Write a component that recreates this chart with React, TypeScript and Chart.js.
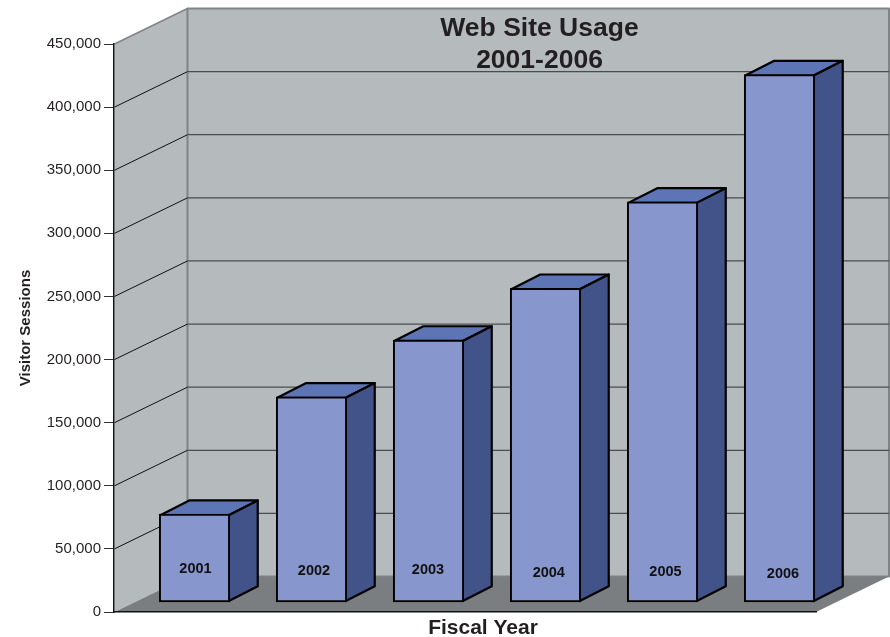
import React, { useEffect, useRef } from "react";
import { Chart, registerables } from "chart.js";

Chart.register(...registerables);

const fiscalYears = ["2001", "2002", "2003", "2004", "2005", "2006"];
const visitorSessions = [70000, 163000, 208000, 249000, 317400, 418300];
// Height, in axis units above each bar's base, of the year written on its front face.
const yearLabelLevels = [26400, 25000, 25700, 23600, 24100, 22300];
// The years sit slightly off-centre on the faces.
const yearLabelNudges = [1, 2.5, -0.5, 3.3, 3, 3.5];
const axisMax = 450000;
const axisStep = 50000;
const chartTitleLines = ["Web Site Usage", "2001-2006"];
const xAxisTitle = "Fiscal Year";
const yAxisTitle = "Visitor Sessions";

const FONT = '"Liberation Sans", Arial, Helvetica, sans-serif';
const INK = "#231f20";
const DEPTH_X = 73;
const DEPTH_Y = 35.5;
const BAR_SHIFT_X = 22;
const BAR_SHIFT_Y = 9.5;
const BAR_DEPTH_X = 29;
const BAR_DEPTH_Y = 14.7;

function poly(ctx: CanvasRenderingContext2D, pts: number[][], fill: string, stroke?: string, lw = 1) {
  ctx.beginPath();
  pts.forEach((p, i) => (i ? ctx.lineTo(p[0], p[1]) : ctx.moveTo(p[0], p[1])));
  ctx.closePath();
  ctx.fillStyle = fill;
  ctx.fill();
  if (stroke) {
    ctx.strokeStyle = stroke;
    ctx.lineWidth = lw;
    ctx.lineJoin = "round";
    ctx.stroke();
  }
}

const roomPlugin = {
  id: "room",
  beforeDraw(chart: any) {
    const { ctx, chartArea: a, scales } = chart;
    const L = a.left + 0.5, R = a.right, B = a.bottom, T = a.top;
    ctx.save();
    // side wall
    poly(ctx, [[L, T], [L + DEPTH_X, T - DEPTH_Y], [L + DEPTH_X, B - DEPTH_Y], [L, B]], "#b5babc");
    // back wall
    poly(ctx, [[L + DEPTH_X, T - DEPTH_Y], [R + DEPTH_X, T - DEPTH_Y], [R + DEPTH_X, B - DEPTH_Y], [L + DEPTH_X, B - DEPTH_Y]], "#b5babc", "#808486", 2);
    // side wall upper edge
    ctx.strokeStyle = "#808486";
    ctx.lineWidth = 1.5;
    ctx.beginPath();
    ctx.moveTo(L, T);
    ctx.lineTo(L + DEPTH_X, T - DEPTH_Y);
    ctx.stroke();
    // grid lines on the two walls, one per axis tick
    scales.y.ticks.forEach((t: any) => {
      if (t.value === 0 || t.value === axisMax) return;
      const y = scales.y.getPixelForValue(t.value);
      ctx.strokeStyle = "#111";
      ctx.lineWidth = 1;
      ctx.beginPath();
      ctx.moveTo(L, y);
      ctx.lineTo(L + DEPTH_X, y - DEPTH_Y);
      ctx.stroke();
      ctx.strokeStyle = "#4a4d4f";
      ctx.lineWidth = 1.3;
      ctx.beginPath();
      ctx.moveTo(L + DEPTH_X, y - DEPTH_Y);
      ctx.lineTo(R + DEPTH_X, y - DEPTH_Y);
      ctx.stroke();
    });
    // floor
    poly(ctx, [[L, B], [L + DEPTH_X, B - DEPTH_Y], [R + DEPTH_X, B - DEPTH_Y], [R, B]], "#7a7e80");
    ctx.restore();
  },
  beforeDatasetDraw(chart: any, args: any) {
    const { ctx } = chart;
    ctx.save();
    ctx.translate(BAR_SHIFT_X, -BAR_SHIFT_Y);
    const meta = chart.getDatasetMeta(args.index);
    meta.data.forEach((bar: any) => {
      const { x, y, base, width } = bar.getProps(["x", "y", "base", "width"], true);
      const r = x + width / 2 - 1, l = x - width / 2 + 1, t = y + 1, b = base - 1;
      poly(ctx, [[l, t], [l + BAR_DEPTH_X, t - BAR_DEPTH_Y], [r + BAR_DEPTH_X, t - BAR_DEPTH_Y], [r, t]], "#5e75b5", "#000", 2.2);
      poly(ctx, [[r, t], [r + BAR_DEPTH_X, t - BAR_DEPTH_Y], [r + BAR_DEPTH_X, b - BAR_DEPTH_Y], [r, b]], "#42538a", "#000", 2.2);
    });
  },
  afterDatasetDraw(chart: any, args: any) {
    const { ctx, scales } = chart;
    const meta = chart.getDatasetMeta(args.index);
    ctx.fillStyle = "#111";
    ctx.font = `bold 14.5px ${FONT}`;
    ctx.textAlign = "center";
    ctx.textBaseline = "middle";
    meta.data.forEach((bar: any, i: number) => {
      const { x } = bar.getProps(["x"], true);
      ctx.fillText(fiscalYears[i], x + yearLabelNudges[i], scales.y.getPixelForValue(yearLabelLevels[i]));
    });
    ctx.restore();
  },
  afterDraw(chart: any) {
    const { ctx, chartArea: a } = chart;
    ctx.save();
    ctx.fillStyle = INK;
    ctx.textAlign = "center";
    ctx.textBaseline = "middle";
    ctx.font = `bold 26.5px ${FONT}`;
    const cx = (a.left + DEPTH_X + a.right + DEPTH_X) / 2 + 1.5;
    chartTitleLines.forEach((line, i) => ctx.fillText(line, cx, 29 + i * 32));
    ctx.font = `bold 21px ${FONT}`;
    ctx.fillText(xAxisTitle, a.left + 369, a.bottom + 16.5);
    ctx.restore();
  },
};

export default function App() {
  const ref = useRef<HTMLCanvasElement>(null);
  useEffect(() => {
    document.body.style.margin = "0";
    const chart = new Chart(ref.current!, {
      type: "bar",
      data: {
        labels: fiscalYears,
        datasets: [
          {
            label: yAxisTitle,
            data: visitorSessions,
            backgroundColor: "#8796cc",
            borderColor: "#000",
            borderWidth: 2,
            borderSkipped: false,
            barThickness: 70.5,
            clip: false,
          } as any,
        ],
      },
      options: {
        responsive: false,
        animation: false,
        layout: { padding: { top: 44, right: 74, left: 0, bottom: 0 } },
        plugins: { legend: { display: false }, tooltip: { enabled: false } },
        scales: {
          x: {
            grid: { display: false, drawTicks: false },
            border: { display: true, color: "#111", width: 1.5 },
            ticks: { display: false },
            afterFit(s: any) {
              s.height = 25;
            },
          },
          y: {
            min: 0,
            max: axisMax,
            grid: { drawOnChartArea: false, drawTicks: true, tickLength: 10, tickColor: "#333" },
            border: { display: true, color: "#111", width: 1.5 },
            ticks: {
              stepSize: axisStep,
              color: INK,
              padding: 3,
              font: { family: FONT, size: 15 },
              callback: (v: any) => Number(v).toLocaleString("en-US"),
            },
            title: {
              display: true,
              text: yAxisTitle,
              color: INK,
              font: { family: FONT, size: 15, weight: "bold" },
              padding: { top: 17, bottom: 0 },
            },
            afterFit(s: any) {
              s.width = 114;
            },
          },
        },
      },
      plugins: [roomPlugin],
    });
    return () => chart.destroy();
  }, []);
  return (
    <div style={{ position: "absolute", left: 0, top: 0, width: 890, height: 637, background: "#fff" }}>
      <canvas ref={ref} width={890} height={637} style={{ display: "block" }} />
    </div>
  );
}
